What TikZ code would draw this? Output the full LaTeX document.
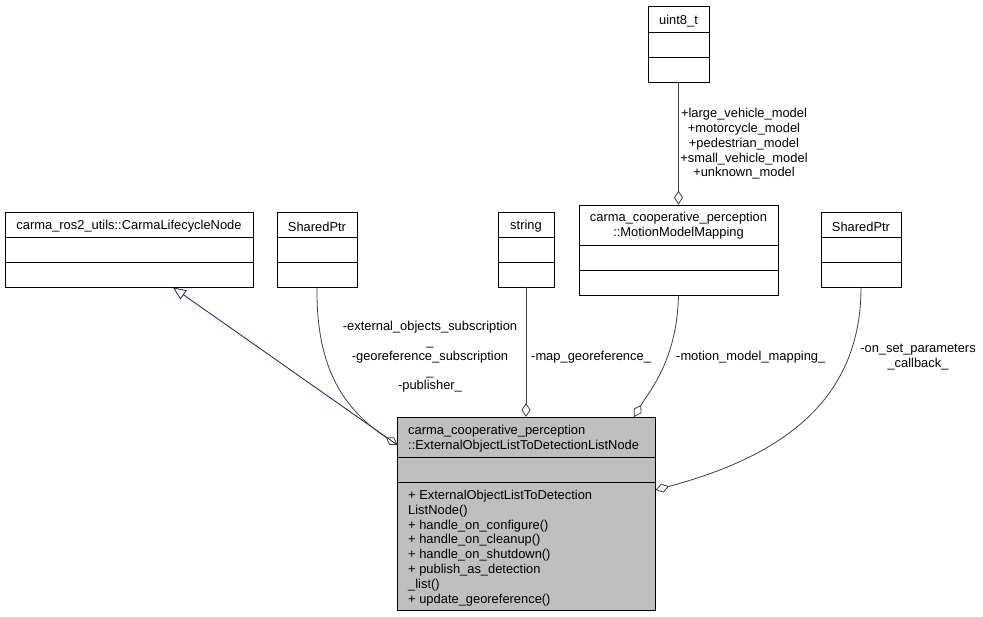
\documentclass[tikz,border=0pt]{standalone}
\usepackage{fontspec}
\setmainfont{Liberation Sans}
\usetikzlibrary{arrows.meta}
\definecolor{edgegray}{HTML}{404040}
\definecolor{inhblue}{HTML}{191970}
\definecolor{mainfill}{HTML}{BFBFBF}
\tikzset{
  txt/.style={inner sep=0pt, yshift=-2pt, font=\fontsize{12.9}{14.8}\selectfont, text=black},
  cls/.style={draw=black, line width=0.9pt, fill=white, inner sep=0pt},
  sep/.style={draw=black, line width=0.9pt},
  rel/.style={draw=edgegray, line width=0.8pt},
  agg/.style={rel, -{Diamond[open, length=14pt, width=9pt]}},
  inh/.style={draw=inhblue, line width=0.8pt, -{Triangle[open, length=13pt, width=11pt]}},
}
\begin{document}
\begin{tikzpicture}[x=1pt, y=-1pt]
\useasboundingbox[fill=white] (0,0) rectangle (983,617);

% CarmaLifecycleNode
\node[cls, minimum width=248pt, minimum height=75pt] (cl) at (129,249.5) {};
\draw[sep] (5,237) -- (253,237);
\draw[sep] (5,262) -- (253,262);
\node[txt] (clt) at (129,224.5) {carma\_ros2\_utils::CarmaLifecycleNode};

% SharedPtr (left)
\node[cls, minimum width=80pt, minimum height=75pt] (spl) at (317,249.5) {};
\draw[sep] (277,237) -- (357,237);
\draw[sep] (277,262) -- (357,262);
\node[txt] (splt) at (317,224.5) {SharedPtr};

% string
\node[cls, minimum width=56pt, minimum height=75pt] (str) at (526,249.5) {};
\draw[sep] (498,237) -- (554,237);
\draw[sep] (498,262) -- (554,262);
\node[txt] (strt) at (526,224.5) {string};

% uint8_t
\node[cls, minimum width=61pt, minimum height=76pt] (u8) at (678.5,44) {};
\draw[sep] (648,32) -- (709,32);
\draw[sep] (648,57) -- (709,57);
\node[txt] (u8t) at (678.5,19) {uint8\_t};

% MotionModelMapping
\node[cls, minimum width=199pt, minimum height=90pt] (mmm) at (678.5,250) {};
\draw[sep] (579,245) -- (778,245);
\draw[sep] (579,270) -- (778,270);
\node[txt, align=center] (mmmt) at (678.5,224) {carma\_cooperative\_perception\\::MotionModelMapping};

% SharedPtr (right)
\node[cls, minimum width=80pt, minimum height=75pt] (spr) at (861,249.5) {};
\draw[sep] (821,237) -- (901,237);
\draw[sep] (821,262) -- (901,262);
\node[txt] (sprt) at (861,224.5) {SharedPtr};

% Main node
\node[cls, fill=mainfill, minimum width=258pt, minimum height=193pt] (main) at (526.5,513.5) {};
\draw[sep] (397.5,457) -- (655.5,457);
\draw[sep] (397.5,482) -- (655.5,482);
\node[txt, align=left, anchor=west] (maint) at (408,437) {carma\_cooperative\_perception\\::ExternalObjectListToDetectionListNode};
\node[txt, align=left, anchor=west] (mainm) at (408,546) {+ ExternalObjectListToDetection\\ListNode()\\+ handle\_on\_configure()\\+ handle\_on\_cleanup()\\+ handle\_on\_shutdown()\\+ publish\_as\_detection\\\_list()\\+ update\_georeference()};

% coordinates on main node
\coordinate (mainL) at (397.5,445);
\coordinate (mainTS) at (526,417);
\coordinate (mainTM) at (634,417);
\coordinate (mainR) at (655.5,490);

% connectors
\draw[inh] (mainL) -- (cl.south -| 173,0);
\draw[agg] (spl.south) .. controls (316,370) and (345,410) .. (mainL);
\draw[agg] (str.south) -- (mainTS);
\draw[agg] (mmm.south) .. controls (677,360) and (650,390) .. (mainTM);
\draw[agg] (spr.south) .. controls (861,405) and (775,458) .. (mainR);
\draw[agg] (u8.south) -- (mmm.north);

% labels
\node[txt, align=center] (l1) at (430,355) {-external\_objects\_subscription\\\_\\-georeference\_subscription\\\_\\-publisher\_};
\node[txt, anchor=west] (l2) at (531,355) {-map\_georeference\_};
\node[txt, anchor=west] (l3) at (676,355) {-motion\_model\_mapping\_};
\node[txt, align=center] (l4) at (918,355.5) {-on\_set\_parameters\\\_callback\_};
\node[txt, align=center] (l5) at (744,142) {+large\_vehicle\_model\\+motorcycle\_model\\+pedestrian\_model\\+small\_vehicle\_model\\+unknown\_model};
\end{tikzpicture}
\end{document}
